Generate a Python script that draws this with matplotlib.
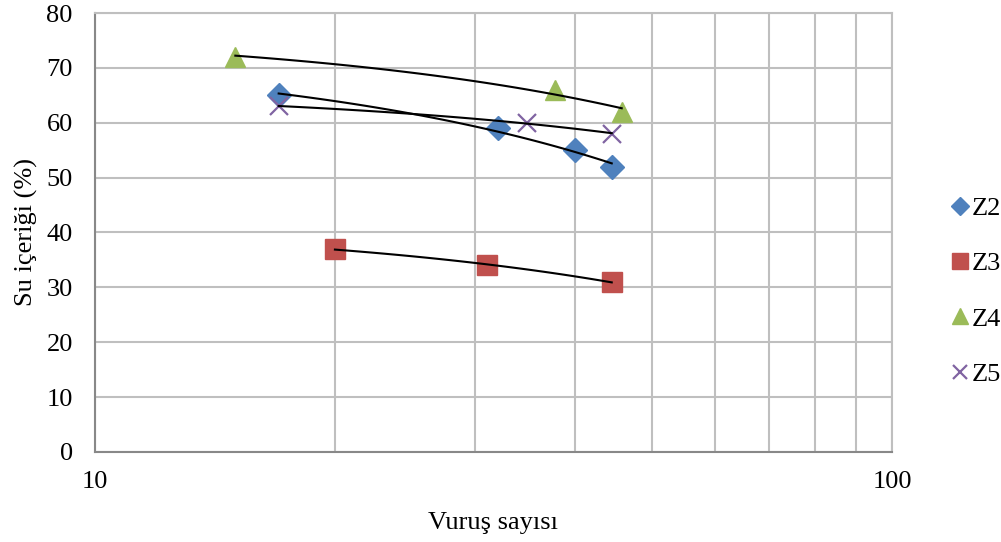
import matplotlib.pyplot as plt
import numpy as np
from matplotlib.ticker import FixedLocator, NullFormatter

plt.rcParams['font.family'] = ['Liberation Serif', 'DejaVu Serif']

# data
z2_x = [17, 32, 40, 44.5]
z2_y = [65, 59, 55, 52]
z3_x = [20, 31, 44.5]
z3_y = [37, 34, 31]
z4_x = [15, 37.8, 45.8]
z4_y = [72, 66, 62]
z5_x = [17, 34.8, 44.5]
z5_y = [63, 60, 58]

series = [
    ('Z2', z2_x, z2_y, 'D', '#4F81BD', 12),
    ('Z3', z3_x, z3_y, 's', '#C0504D', 14),
    ('Z4', z4_x, z4_y, '^', '#9BBB59', 15),
    ('Z5', z5_x, z5_y, 'x', '#8064A2', 13),
]

fig = plt.figure(figsize=(10.01, 5.42), dpi=100)
ax = fig.add_axes([95/1001, 1-452/542, (892-95)/1001, (452-13)/542])

grid_c = '#BFBFBF'
for name, xs, ys, m, c, s in series:
    if m == 'x':
        ax.plot(xs, ys, ls='none', marker=m, color=c, ms=s, mew=1.6, label=name, zorder=3)
    else:
        ax.plot(xs, ys, ls='none', marker=m, color=c, ms=s, mec=c, label=name, zorder=3)
    # linear trendline (curved on log axis)
    a, b = np.polyfit(xs, ys, 1)
    tx = np.linspace(min(xs), max(xs), 100)
    ax.plot(tx, a * tx + b, color='black', lw=1.5, zorder=4)

ax.set_xscale('log')
ax.set_xlim(10, 100)
ax.set_ylim(0, 80)
ax.set_yticks(range(0, 81, 10))
ax.set_xticks([10, 100])
ax.set_xticklabels(['10', '100'])
ax.xaxis.set_minor_locator(FixedLocator(range(20, 100, 10)))
ax.xaxis.set_minor_formatter(NullFormatter())
ax.grid(True, which='both', color=grid_c, lw=1.5)
ax.set_axisbelow(True)
for sp in ax.spines.values():
    sp.set_color(grid_c)
    sp.set_linewidth(1.5)
ax.spines['left'].set_color('#888888')
ax.spines['bottom'].set_color('#888888')
ax.tick_params(which='both', length=0, labelsize=19, colors='black')
ax.tick_params(axis='y', pad=16)
ax.tick_params(axis='x', pad=14)

ax.set_ylabel('Su içeriği (%)', fontsize=19, labelpad=6)
ax.set_xlabel('Vuruş sayısı', fontsize=19, labelpad=13)

ax.legend(loc='center left', bbox_to_anchor=(1.06, 0.366), frameon=False,
          fontsize=19, handlelength=0.7, handletextpad=0.1, labelspacing=1.2,
          borderaxespad=0, markerscale=0.8)

fig.savefig('out.png', dpi=100)
